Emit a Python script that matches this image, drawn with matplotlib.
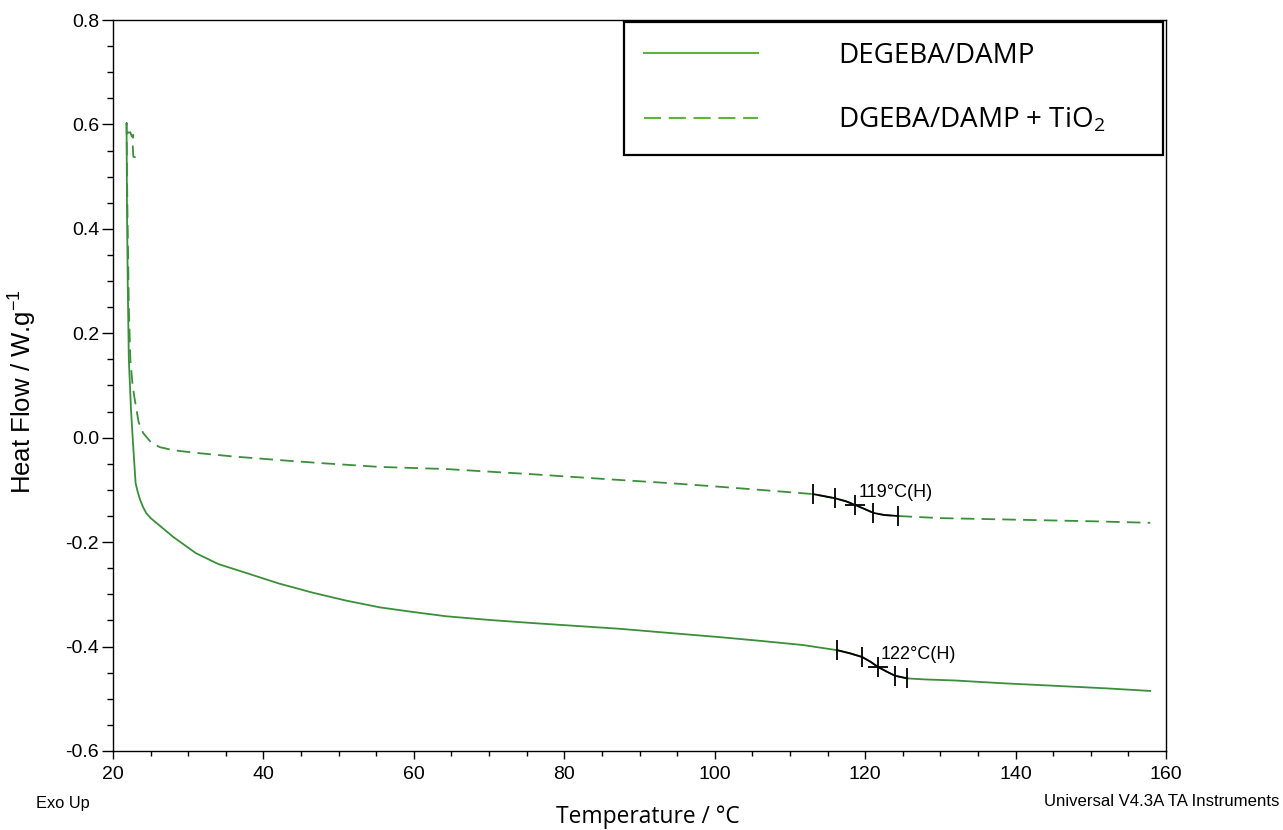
import numpy as np
import matplotlib
matplotlib.use("Agg")
import matplotlib.pyplot as plt
from matplotlib.lines import Line2D
from matplotlib.ticker import MultipleLocator

# DEGEBA/DAMP (solid)
T_neat = [21.8, 21.85, 21.95, 22.05, 22.1, 22.25, 22.4, 22.7, 23.0, 23.3, 23.6, 24.0, 24.4,
          25.0, 26.0, 28.0, 31.0, 34.0, 37.7, 42.0, 46.6, 51.0, 55.5, 60.0, 64.3, 70.0,
          75.8, 80.0, 87.4, 94.0, 100.7, 106.0, 111.7, 116.3, 118.0, 119.6, 120.7, 121.7,
          123.0, 124.0, 125.6, 128.0, 132.0, 137.9, 145.0, 152.0, 157.9]
HF_neat = [0.600, 0.450, 0.300, 0.200, 0.150, 0.100, 0.050, -0.020, -0.087, -0.105, -0.119,
           -0.133, -0.144, -0.154, -0.166, -0.190, -0.221, -0.242, -0.259, -0.279, -0.297,
           -0.312, -0.325, -0.334, -0.342, -0.349, -0.355, -0.359, -0.366, -0.374, -0.382,
           -0.389, -0.397, -0.407, -0.413, -0.420, -0.429, -0.439, -0.449, -0.456, -0.461,
           -0.463, -0.465, -0.470, -0.475, -0.480, -0.485]

# DGEBA/DAMP + TiO2 (dashed)
T_tio2 = [23.0, 22.7, 22.6, 22.7, 22.5, 22.3, 22.0, 21.8, 21.9, 22.0, 22.1, 22.3, 22.6, 22.9,
          23.4, 24.0, 25.0, 26.2, 28.0, 31.0, 36.0, 42.2, 48.0, 55.5, 64.3, 70.0, 75.8, 81.0,
          87.4, 94.0, 100.7, 107.0, 113.1, 116.0, 117.5, 118.7, 120.0, 121.1, 122.5, 124.4,
          130.0, 140.0, 150.0, 157.9]
HF_tio2 = [0.537, 0.538, 0.565, 0.580, 0.577, 0.585, 0.584, 0.603, 0.450, 0.350, 0.250, 0.150,
           0.100, 0.072, 0.030, 0.009, -0.008, -0.018, -0.024, -0.029, -0.036, -0.043, -0.049,
           -0.056, -0.060, -0.065, -0.070, -0.075, -0.081, -0.087, -0.094, -0.101, -0.108,
           -0.116, -0.122, -0.129, -0.137, -0.144, -0.148, -0.150, -0.154, -0.157, -0.160,
           -0.163]

# glass transition analysis marks
tg_tio2_T = [113.1, 116.0, 118.7, 121.1, 124.4]
tg_tio2_HF = [-0.108, -0.116, -0.129, -0.144, -0.150]
tg_neat_T = [116.3, 119.6, 121.7, 124.0, 125.6]
tg_neat_HF = [-0.407, -0.420, -0.439, -0.456, -0.461]
tg_labels = ["119°C(H)", "122°C(H)"]

plt.rcParams.update({"font.family": "Liberation Sans", "mathtext.default": "regular"})
GREEN = "#3b8f3b"
LEG_GREEN = "#5cb43c"

fig = plt.figure(figsize=(12.83, 8.30), dpi=100)
ax = fig.add_axes([0.0881, 0.0952, 0.8207, 0.8807])

ax.plot(T_neat, HF_neat, color=GREEN, lw=1.3)
ax.plot(T_tio2, HF_tio2, color=GREEN, lw=1.3, dashes=(7.5, 4))

for T, HF, tT, tHF, lab in [(T_tio2, HF_tio2, tg_tio2_T, tg_tio2_HF, tg_labels[0]),
                            (T_neat, HF_neat, tg_neat_T, tg_neat_HF, tg_labels[1])]:
    T = np.array(T); HF = np.array(HF)
    m = (T >= tT[0]) & (T <= tT[-1])
    ax.plot(T[m], HF[m], color="black", lw=1.3)
    ax.plot(tT, tHF, ls="none", marker="|", ms=14, mew=1.3, color="black")
    ax.plot(tT[2], tHF[2], ls="none", marker="_", ms=14, mew=1.3, color="black")
    ax.text(tT[2] + 0.4, tHF[2] + 0.008, lab, fontsize=13, ha="left", va="bottom")

ax.set_xlim(20, 160)
ax.set_ylim(-0.6, 0.8)
ax.xaxis.set_major_locator(MultipleLocator(20))
ax.xaxis.set_minor_locator(MultipleLocator(5))
ax.yaxis.set_major_locator(MultipleLocator(0.2))
ax.yaxis.set_minor_locator(MultipleLocator(0.05))
ax.yaxis.set_major_formatter(lambda v, p: f"{v:.1f}")
ax.tick_params(axis="x", which="major", length=6, width=1, labelsize=14, pad=5)
ax.tick_params(axis="x", which="minor", length=3.5, width=1)
ax.tick_params(axis="y", which="major", length=8, width=1, labelsize=14, pad=2)
ax.tick_params(axis="y", which="minor", length=4, width=1)
for s in ax.spines.values():
    s.set_linewidth(1.0)

fig.text(0.0175, 0.528, "Heat Flow / W.g$^{-1}$", fontsize=18.5, rotation=90,
         ha="center", va="center")
fig.text(0.505, 0.0157, "Temperature / °C", fontsize=16.4, family="Open Sans",
         ha="center", va="center")
fig.text(0.028, 0.032, "Exo Up", fontsize=11.8, ha="left", va="center")
fig.text(0.997, 0.034, "Universal V4.3A TA Instruments", fontsize=12.1, ha="right", va="center")

handles = [Line2D([0], [0], color=LEG_GREEN, lw=1.5),
           Line2D([0], [0], color=LEG_GREEN, lw=1.5, dashes=(8.2, 3.7))]
leg = ax.legend(handles, ["DEGEBA/DAMP", "DGEBA/DAMP + TiO$_2$"], loc="upper left",
                bbox_to_anchor=(0.485, 0.8195, 0.512, 0.1775), mode="expand",
                borderaxespad=0, frameon=True, fancybox=False, framealpha=1,
                edgecolor="black", prop={"family": "Open Sans", "size": 20},
                handlelength=4.1, handletextpad=2.9, borderpad=0.72, labelspacing=1.3)
leg.get_frame().set_linewidth(1.6)

fig.savefig("out.png", dpi=100)
